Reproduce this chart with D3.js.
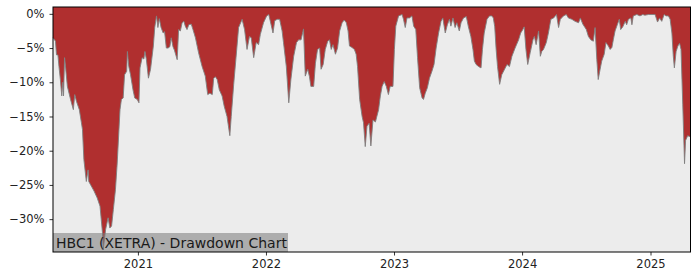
<!DOCTYPE html>
<html>
<head>
<meta charset="utf-8">
<script src="https://cdn.jsdelivr.net/npm/d3@7"></script>
<style>
    body { margin: 0; background: #fff; }
    svg { display: block; font-family: "DejaVu Sans", sans-serif; }
</style>
</head>
<body>
<div id="view"></div>
<script>
const title = "HBC1 (XETRA) - Drawdown Chart";

const dates = [
    "2020-05-04", "2020-05-11", "2020-05-14", "2020-05-18", "2020-05-21", "2020-05-25", "2020-05-29", "2020-06-01", "2020-06-03", "2020-06-06",
    "2020-06-09", "2020-06-14", "2020-06-23", "2020-07-01", "2020-07-05", "2020-07-10", "2020-07-18", "2020-07-24", "2020-07-27", "2020-07-31",
    "2020-08-07", "2020-08-12", "2020-08-14", "2020-08-29", "2020-09-07", "2020-09-15", "2020-09-22", "2020-09-24", "2020-10-01", "2020-10-08",
    "2020-10-13", "2020-10-18", "2020-10-23", "2020-10-29", "2020-11-03", "2020-11-08", "2020-11-11", "2020-11-15", "2020-11-20", "2020-11-24",
    "2020-11-30", "2020-12-02", "2020-12-06", "2020-12-11", "2020-12-18", "2020-12-23", "2020-12-30",
    "2021-01-04", "2021-01-07", "2021-01-13", "2021-01-18", "2021-01-21", "2021-01-25", "2021-01-31", "2021-02-06", "2021-02-14", "2021-02-18",
    "2021-02-23", "2021-02-27", "2021-03-03", "2021-03-08", "2021-03-14", "2021-03-18", "2021-03-23", "2021-03-28", "2021-04-02", "2021-04-06",
    "2021-04-11", "2021-04-15", "2021-04-23", "2021-04-27", "2021-05-02", "2021-05-07", "2021-05-12", "2021-05-16", "2021-05-21", "2021-05-26",
    "2021-06-02", "2021-06-07", "2021-06-14", "2021-06-23", "2021-07-03", "2021-07-12", "2021-07-19", "2021-07-25", "2021-08-01", "2021-08-05",
    "2021-08-10", "2021-08-15", "2021-08-21", "2021-08-29", "2021-09-04", "2021-09-12", "2021-09-20", "2021-09-24", "2021-10-01", "2021-10-10",
    "2021-10-15", "2021-10-25", "2021-11-01", "2021-11-08", "2021-11-15", "2021-11-20", "2021-11-27", "2021-12-04", "2021-12-11", "2021-12-16",
    "2021-12-25",
    "2022-01-03", "2022-01-09", "2022-01-13", "2022-01-21", "2022-01-26", "2022-02-02", "2022-02-09", "2022-02-16", "2022-02-20", "2022-02-28",
    "2022-03-07", "2022-03-13", "2022-03-21", "2022-03-29", "2022-04-04", "2022-04-11", "2022-04-18", "2022-04-23", "2022-04-30", "2022-05-05",
    "2022-05-09", "2022-05-17", "2022-05-22", "2022-05-28", "2022-06-03", "2022-06-07", "2022-06-13", "2022-06-19", "2022-06-26", "2022-07-01",
    "2022-07-06", "2022-07-11", "2022-07-18", "2022-07-24", "2022-07-30", "2022-08-06", "2022-08-12", "2022-08-18", "2022-08-23", "2022-08-27",
    "2022-09-03", "2022-09-10", "2022-09-15", "2022-09-19", "2022-09-25", "2022-10-02", "2022-10-06", "2022-10-11", "2022-10-16", "2022-10-22",
    "2022-10-27", "2022-11-02", "2022-11-09", "2022-11-13", "2022-11-18", "2022-11-23", "2022-11-28", "2022-12-04", "2022-12-10", "2022-12-16",
    "2022-12-21", "2022-12-29",
    "2023-01-02", "2023-01-06", "2023-01-14", "2023-01-24", "2023-01-28", "2023-02-02", "2023-02-07", "2023-02-14", "2023-02-21", "2023-02-26",
    "2023-03-04", "2023-03-09", "2023-03-15", "2023-03-22", "2023-03-26", "2023-03-31", "2023-04-06", "2023-04-12", "2023-04-19", "2023-04-25",
    "2023-05-01", "2023-05-08", "2023-05-15", "2023-05-20", "2023-05-27", "2023-06-02", "2023-06-08", "2023-06-12", "2023-06-18", "2023-06-24",
    "2023-06-29", "2023-07-06", "2023-07-11", "2023-07-18", "2023-07-26", "2023-08-01", "2023-08-08", "2023-08-14", "2023-08-18", "2023-08-23",
    "2023-08-30", "2023-09-06", "2023-09-10", "2023-09-15", "2023-09-23", "2023-09-30", "2023-10-07", "2023-10-11", "2023-10-15", "2023-10-19",
    "2023-10-23", "2023-10-29", "2023-11-04", "2023-11-11", "2023-11-19", "2023-11-26", "2023-12-03", "2023-12-12", "2023-12-22", "2023-12-28",
    "2024-01-03", "2024-01-07", "2024-01-12", "2024-01-17", "2024-01-24", "2024-02-01", "2024-02-05", "2024-02-10", "2024-02-17", "2024-02-22",
    "2024-02-26", "2024-03-02", "2024-03-10", "2024-03-16", "2024-03-23", "2024-03-31", "2024-04-08", "2024-04-14", "2024-04-19", "2024-04-28",
    "2024-05-06", "2024-05-12", "2024-05-22", "2024-05-31", "2024-06-10", "2024-06-15", "2024-06-22", "2024-07-02", "2024-07-08", "2024-07-15",
    "2024-07-22", "2024-07-27", "2024-08-01", "2024-08-05", "2024-08-10", "2024-08-15", "2024-08-22", "2024-08-27", "2024-09-03", "2024-09-08",
    "2024-09-13", "2024-09-17", "2024-09-22", "2024-09-29", "2024-10-04", "2024-10-08", "2024-10-14", "2024-10-21", "2024-10-25", "2024-10-30",
    "2024-11-06", "2024-11-09", "2024-11-13", "2024-11-23", "2024-12-02", "2024-12-10", "2024-12-16", "2024-12-26",
    "2025-01-05", "2025-01-14", "2025-01-21", "2025-01-27", "2025-02-02", "2025-02-09", "2025-02-14", "2025-02-21", "2025-02-26", "2025-03-03",
    "2025-03-07", "2025-03-10", "2025-03-15", "2025-03-20", "2025-03-25", "2025-03-29", "2025-04-03", "2025-04-08", "2025-04-11", "2025-04-17",
    "2025-04-25"
];

// drawdown in percent, same order as dates
const drawdown = [
    -3.5, -4.0, -6.0, -6.0, -7.7, -9.6, -12.0, -10.0, -12.0, -6.4,
    -7.9, -10.6, -12.5, -14.0, -11.8, -12.8, -14.0, -15.9, -16.9, -21.3,
    -24.5, -22.8, -24.5, -25.9, -26.9, -28.1, -32.0, -34.5, -31.5, -29.8,
    -31.3, -31.0, -28.6, -25.7, -21.8, -16.9, -14.0, -12.5, -12.3, -8.9,
    -8.4, -5.5, -7.7, -8.9, -11.1, -12.3, -12.5,
    -13.0, -7.9, -6.4, -6.6, -5.5, -6.6, -9.4, -8.1, -4.7, -2.0,
    -0.3, -2.0, -0.7, -2.0, -2.8, -2.6, -5.0, -5.0, -4.8, -3.5,
    -4.8, -5.3, -6.7, -2.3, -2.5, -1.3, -1.1, -1.8, -2.3, -1.6,
    -1.5, -2.3, -3.5, -5.7, -7.7, -9.1, -11.8, -11.6, -11.8, -9.4,
    -9.2, -9.6, -11.1, -12.0, -13.5, -15.0, -17.8, -15.0, -10.3, -5.0,
    -2.0, -0.8, -2.3, -5.2, -3.3, -3.5, -6.4, -4.2, -4.5, -3.0,
    -1.3,
    -0.3, -0.1, -1.0, -2.8, -1.0, -0.8, -0.8, -2.5, -4.2, -7.7,
    -13.0, -9.6, -6.2, -4.2, -3.8, -3.8, -2.2, -9.1, -8.1, -9.2,
    -10.6, -10.6, -7.2, -5.2, -5.0, -8.1, -7.4, -5.2, -4.0, -3.8,
    -5.2, -4.5, -5.9, -5.0, -2.5, -1.3, -0.9, -1.3, -2.5, -4.7,
    -4.9, -5.2, -5.9, -7.7, -12.5, -15.0, -15.9, -19.4, -16.4, -16.0,
    -19.3, -15.5, -15.8, -15.0, -14.0, -12.0, -10.6, -9.9, -10.6, -11.8,
    -10.6, -10.6,
    -5.2, -1.8, -0.3, -0.1, -0.8, -2.0, -0.6, -0.6, -0.3, -1.8,
    -2.3, -6.4, -10.8, -12.3, -12.5, -11.6, -10.8, -9.4, -8.4, -7.4,
    -5.0, -2.8, -1.1, -0.6, -2.8, -1.6, -0.8, -1.8, -0.6, -2.0,
    -1.3, -2.5, -1.3, -0.6, -0.4, -1.9, -3.3, -5.2, -6.9, -7.4,
    -7.7, -7.9, -5.2, -2.8, -0.8, -0.3, -0.3, -0.6, -1.9, -5.2,
    -7.7, -10.3, -8.9, -8.2, -7.4, -7.7, -6.2, -5.0, -3.8, -2.8,
    -2.3, -1.9, -5.2, -7.4, -5.7, -3.8, -3.3, -4.5, -2.5, -6.2,
    -5.5, -5.2, -4.2, -2.8, -0.8, -0.6, -0.1, -2.0, -0.8, -0.3,
    -0.1, -0.6, -0.8, -1.1, -1.3, -0.6, -1.5, -2.3, -3.3, -3.8,
    -4.0, -2.0, -6.7, -9.6, -8.2, -6.9, -5.9, -4.2, -4.7, -5.2,
    -4.9, -3.8, -2.5, -1.5, -0.8, -2.3, -1.9, -1.1, -1.6, -0.8,
    -0.6, -1.6, -0.3, -0.1, -0.3, -0.1, -0.2, -0.1,
    -0.1, -0.1, -1.2, -0.6, -1.1, -0.1, -0.3, -0.3, -0.8, -2.8,
    -6.2, -7.9, -5.5, -4.7, -4.3, -5.2, -13.3, -21.9, -18.5, -17.8,
    -18.0
];

const yTicks = [0, -5, -10, -15, -20, -25, -30];
const yDomain = [-34.8, 1.0];

// set the dimensions and margins of the graph
const viewWidth = 700;
const viewHeight = 280;
const margin = {top: 7, left: 53, right: 9.5, bottom: 28};
const width = viewWidth - margin.left - margin.right;
const height = viewHeight - margin.top - margin.bottom;

const parse = d3.timeParse("%Y-%m-%d");
const data = dates.map((d, i) => ({date: parse(d), value: drawdown[i]}));

const svg = d3.select("#view")
    .append("svg")
        .attr("width", viewWidth)
        .attr("height", viewHeight)
    .append("g")
        .attr("transform", `translate(${margin.left},${margin.top})`);

const x = d3.scaleTime()
    .domain(d3.extent(data, d => d.date))
    .range([0, width]);
const y = d3.scaleLinear()
    .domain(yDomain)
    .range([height, 0]);

// plot background
svg.append("rect")
    .attr("width", width)
    .attr("height", height)
    .attr("fill", "#ececec");

// drawdown area, filled from the top of the axes
svg.append("path")
    .datum(data)
    .attr("fill", "#b02f2f")
    .attr("d", d3.area()
        .x(d => x(d.date))
        .y0(y(yDomain[1]))
        .y1(d => y(d.value)));
svg.append("path")
    .datum(data)
    .attr("fill", "none")
    .attr("stroke", "#7f7f7f")
    .attr("stroke-width", 0.9)
    .attr("d", d3.line()
        .x(d => x(d.date))
        .y(d => y(d.value)));

// title box (semi transparent, on top of the area)
const label = svg.append("g")
    .attr("transform", `translate(0, ${height})`);
label.append("rect")
    .attr("y", -19)
    .attr("width", 235)
    .attr("height", 19)
    .attr("fill", "#7a7a7a")
    .attr("fill-opacity", 0.55);
label.append("text")
    .attr("x", 3)
    .attr("y", -4.5)
    .attr("font-size", "14px")
    .attr("fill", "#1a1a1a")
    .text(title);

// X axis
const xAxis = svg.append("g")
    .attr("transform", `translate(0, ${height})`)
    .call(d3.axisBottom(x).ticks(d3.timeYear.every(1)).tickFormat(d3.timeFormat("%Y")).tickSize(3.5).tickPadding(4));

// Y axis
const yAxis = svg.append("g")
    .call(d3.axisLeft(y).tickValues(yTicks).tickFormat(d => (d < 0 ? "\u2212" + (-d) : d) + "%").tickSize(3.5).tickPadding(5));

[xAxis, yAxis].forEach(a => {
    a.select(".domain").remove();
    a.selectAll("text").attr("font-size", "11.5px").attr("font-family", "DejaVu Sans").attr("fill", "#222");
    a.selectAll("line").attr("stroke", "#000").attr("stroke-width", 0.8);
});

// frame
svg.append("rect")
    .attr("width", width)
    .attr("height", height)
    .attr("fill", "none")
    .attr("stroke", "#000")
    .attr("stroke-width", 1);
</script>
</body>
</html>
